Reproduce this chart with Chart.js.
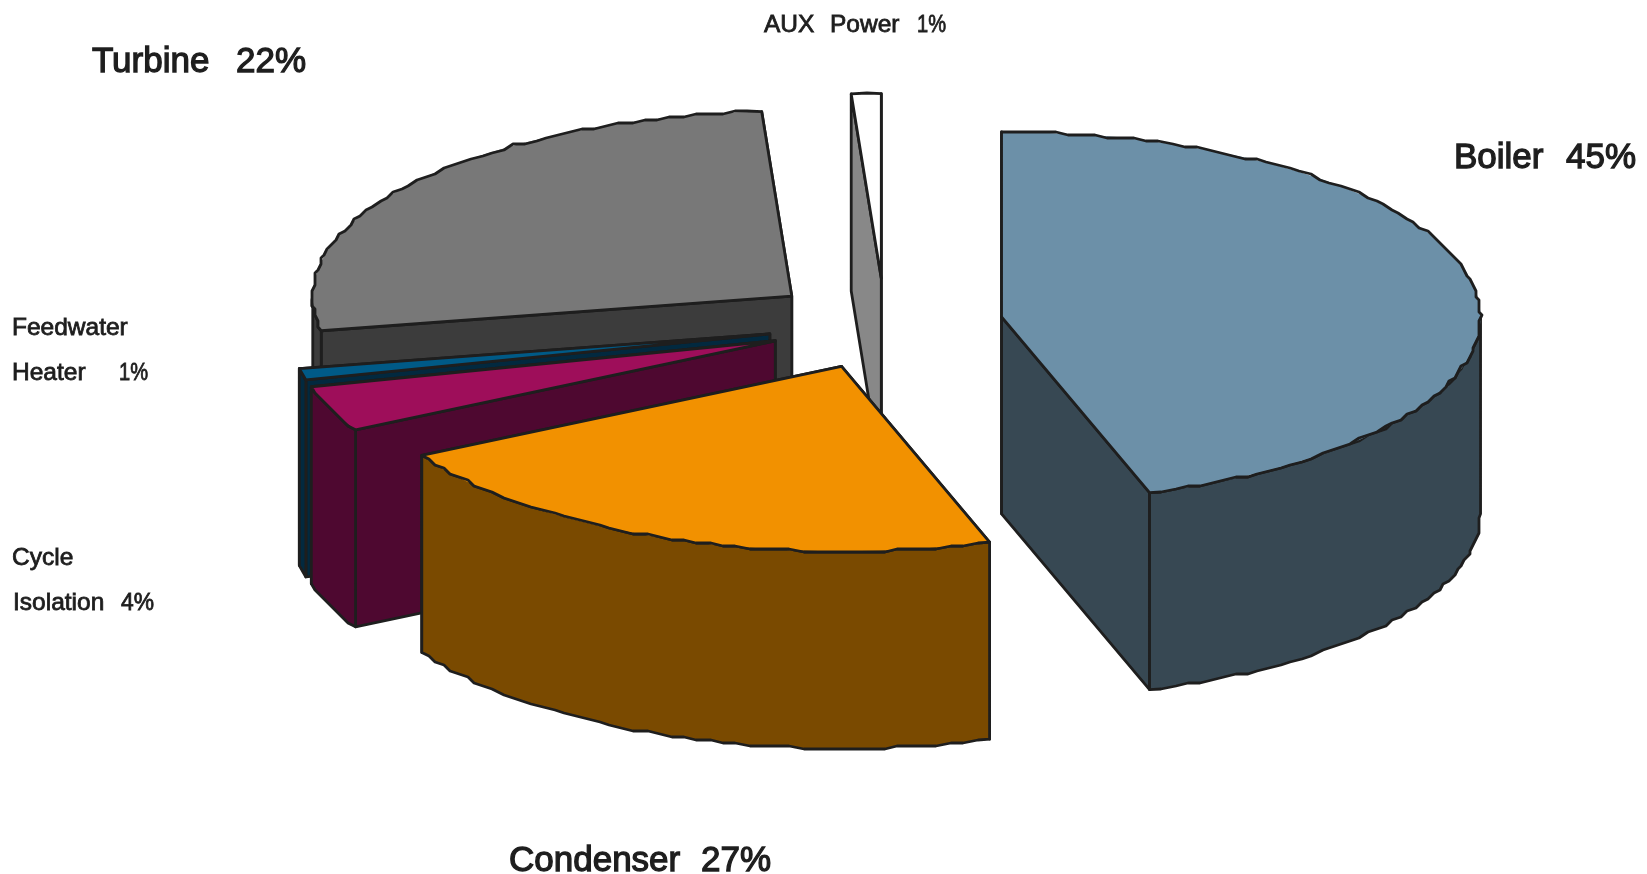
<!DOCTYPE html>
<html>
<head>
<meta charset="utf-8">
<title>Heat rate losses</title>
<script src="https://cdn.jsdelivr.net/npm/chart.js@4"></script>
<style>
  html, body { margin: 0; padding: 0; background: #fff; }
  canvas { display: block; }
</style>
</head>
<body>
<canvas id="pieChart" width="1647" height="874"></canvas>
<script>
// Slices go clockwise from 12 o'clock
const categories = ["Boiler", "Turbine", "Cycle Isolation", "Feedwater Heater", "Condenser", "AUX Power"];
const shares = [45, 22, 4, 1, 27, 1];
const topColors = ["#6c90a8", "#f29100", "#9e0e5a", "#005a87", "#787878", "#ffffff"];
const wallColors = ["#374853", "#7a4a00", "#4e0830", "#02293f", "#3c3c3c", "#888888"];

const TILT = 0.386;     // vertical squash of the pie
const DEPTH = 197;      // height of the extruded walls
const EXPLODE = 118;    // how far every slice is pulled out of the centre
const LINE = "#1e1e1e";
const GRID = 3;         // the rim outline is snapped to this grid, gives the rough edge

// far slices first so the nearer ones paint over them
const paintOrder = [5, 4, 0, 3, 2, 1];

// Text blocks: [text, x, baseline, max width]; {v} is the slice's share
const captions = [
  { i: 0, size: 35, lines: [["Boiler", 1454, 168], ["{v}", 1566, 168]] },
  { i: 1, size: 35, lines: [["Turbine", 92, 72], ["{v}", 236, 72]] },
  { i: 4, size: 35, lines: [["Condenser", 509, 871], ["{v}", 701, 871]] },
  { i: 5, size: 24.5, lines: [["AUX", 764, 32], ["Power", 830, 32], ["{v}", 917, 32, 29]] },
  { i: 3, size: 24.5, lines: [["Feedwater", 12, 335], ["Heater", 12, 380], ["{v}", 119, 380, 29]] },
  { i: 2, size: 24.5, lines: [["Cycle", 12, 565], ["Isolation", 13, 610], ["{v}", 121, 610, 33]] }
];

function snap(v) {
  return Math.round(v / GRID) * GRID;
}

function outlinePath(ctx, pts) {
  ctx.beginPath();
  pts.forEach((p, n) => n ? ctx.lineTo(p[0], p[1]) : ctx.moveTo(p[0], p[1]));
  ctx.closePath();
}

function fillAndStroke(ctx, pts, color) {
  outlinePath(ctx, pts);
  ctx.fillStyle = color;
  ctx.fill();
  ctx.stroke();
}

const pie3d = {
  id: "pie3d",
  // the doughnut controller only lays the arcs out, all painting happens here
  beforeDatasetDraw(chart) {
    const ctx = chart.ctx;
    const arcs = chart.getDatasetMeta(0).data;
    ctx.save();
    ctx.lineWidth = 2.8;
    ctx.lineJoin = "round";
    ctx.strokeStyle = LINE;

    paintOrder.forEach(i => {
      const arc = arcs[i];
      const R = arc.outerRadius;
      const mid = (arc.startAngle + arc.endAngle) / 2;
      const ax = arc.x + Math.cos(mid) * EXPLODE;
      const ay = arc.y + Math.sin(mid) * EXPLODE * TILT;
      const rim = a => [ax + R * Math.cos(a), ay + R * TILT * Math.sin(a)];
      const rough = (from, to) => {
        const steps = Math.max(1, Math.round((to - from) / 0.028));
        const pts = [rim(from)];
        for (let s = 1; s < steps; s++) {
          const p = rim(from + (to - from) * s / steps);
          pts.push([snap(p[0]), snap(p[1])]);
        }
        pts.push(rim(to));
        return pts;
      };
      const down = p => [p[0], p[1] + DEPTH];
      const face = a => {
        const p = rim(a);
        return [[ax, ay], p, down(p), [ax, ay + DEPTH]];
      };

      // cut faces, the back one first
      fillAndStroke(ctx, face(arc.endAngle), wallColors[i]);
      fillAndStroke(ctx, face(arc.startAngle), wallColors[i]);

      // outer wall, only the part that faces the viewer
      const from = Math.max(arc.startAngle, 0);
      const to = Math.min(arc.endAngle, Math.PI);
      if (to > from) {
        const edge = rough(from, to);
        fillAndStroke(ctx, edge.concat(edge.map(down).reverse()), wallColors[i]);
      }

      // top of the slice, filled by the arc element itself in squashed space
      ctx.save();
      ctx.translate(ax, ay);
      ctx.scale(1, TILT);
      ctx.translate(-arc.x, -arc.y);
      arc.draw(ctx);
      ctx.restore();

      outlinePath(ctx, [[ax, ay]].concat(rough(arc.startAngle, arc.endAngle)));
      ctx.stroke();
    });

    ctx.restore();
    return false;
  },
  afterDatasetsDraw(chart) {
    const ctx = chart.ctx;
    ctx.save();
    ctx.textBaseline = "alphabetic";
    ctx.fillStyle = LINE;
    ctx.strokeStyle = LINE;
    captions.forEach(c => {
      ctx.font = c.size + 'px "Liberation Sans", Arial, sans-serif';
      ctx.lineWidth = c.size > 30 ? 1.3 : 0.8;
      c.lines.forEach(l => {
        const text = l[0].replace("{v}", shares[c.i] + "%");
        ctx.fillText(text, l[1], l[2], l[3]);
        ctx.strokeText(text, l[1], l[2], l[3]);
      });
    });
    ctx.restore();
  }
};

new Chart(document.getElementById("pieChart"), {
  type: "pie",
  data: {
    labels: categories,
    datasets: [{
      data: shares,
      backgroundColor: topColors,
      borderWidth: 0,
      clip: false
    }]
  },
  options: {
    responsive: false,
    animation: false,
    events: [],
    radius: 479,
    layout: { padding: { left: 123, bottom: 226 } },
    plugins: { legend: { display: false }, tooltip: { enabled: false } }
  },
  plugins: [pie3d]
});
</script>
</body>
</html>
